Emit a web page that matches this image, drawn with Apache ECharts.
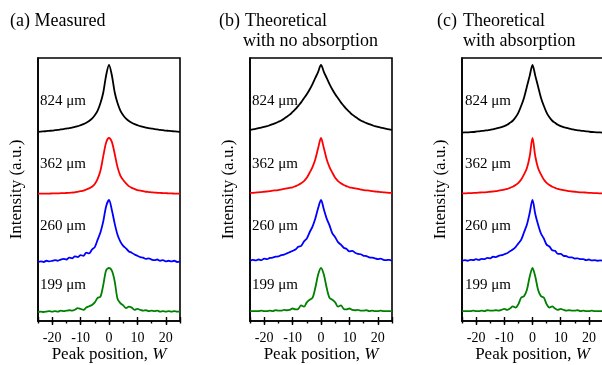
<!DOCTYPE html>
<html>
<head>
<meta charset="utf-8">
<script src="https://cdn.jsdelivr.net/npm/echarts@6/dist/echarts.min.js"></script>
<style>
  html, body { margin: 0; padding: 0; background: #fff; }
  #chart { width: 602px; height: 365px; }
</style>
</head>
<body>
<div id="chart"></div>
<script>
// peak position W
const W = [-25,-24,-23,-22,-21,-20,-19,-18,-17,-16,-15,-14,-13,-12,-11,-10,-9,-8,-7,-6,-5,-4,-3,-2,-1,
  0,1,2,3,4,5,6,7,8,9,10,11,12,13,14,15,16,17,18,19,20,21,22,23,24,25];

const thickness = ['824 μm', '362 μm', '260 μm', '199 μm'];
const colors = ['#000000', '#ff0000', '#0000ff', '#008000'];
// vertical offset / height of each trace (a.u.)
const offset = [9.4, 6.35, 2.95, 0.45];
const scale = [3.4, 2.8, 3.1, 2.2];

// (a) measured, normalized intensity
const meas824 = [0.017,0.02,0.024,0.028,0.032,0.036,0.041,0.046,0.052,0.058,0.065,0.072,0.08,0.09,0.1,0.115,0.13,0.15,0.175,0.21,0.26,0.33,0.44,0.6,0.85,
  1.0,0.85,0.6,0.44,0.33,0.26,0.21,0.175,0.15,0.13,0.115,0.1,0.09,0.08,0.072,0.065,0.058,0.052,0.046,0.041,0.036,0.032,0.028,0.024,0.02,0.017];
const meas362 = [0.005,0.005,0.006,0.007,0.008,0.01,0.011,0.012,0.014,0.016,0.018,0.02,0.025,0.03,0.04,0.05,0.06,0.08,0.1,0.13,0.18,0.27,0.42,0.68,0.92,
  1.0,0.93,0.72,0.48,0.33,0.25,0.19,0.14,0.11,0.09,0.07,0.06,0.05,0.04,0.035,0.03,0.026,0.022,0.019,0.016,0.014,0.012,0.01,0.008,0.007,0.006];
const meas260 = [0.0,0.01,0.0,0.02,0.01,0.02,0.03,0.02,0.04,0.05,0.04,0.07,0.06,0.09,0.08,0.11,0.1,0.15,0.14,0.2,0.24,0.36,0.48,0.66,0.9,
  1.0,0.84,0.62,0.44,0.33,0.26,0.22,0.17,0.15,0.12,0.1,0.08,0.07,0.05,0.06,0.04,0.03,0.04,0.02,0.03,0.01,0.02,0.01,0.02,0.0,0.01];
const meas199 = [0.0,0.01,0.0,0.01,0.02,0.01,0.02,0.01,0.03,0.02,0.03,0.04,0.03,0.05,0.09,0.07,0.05,0.1,0.13,0.16,0.22,0.32,0.35,0.62,0.95,
  1.0,0.94,0.7,0.3,0.2,0.15,0.09,0.12,0.1,0.05,0.07,0.05,0.03,0.04,0.02,0.03,0.02,0.03,0.01,0.02,0.01,0.02,0.01,0.02,0.01,0.01];

// (b) theoretical, no absorption
const noAbs824 = [0.045,0.052,0.06,0.07,0.08,0.09,0.1,0.115,0.13,0.145,0.165,0.185,0.21,0.24,0.27,0.31,0.35,0.4,0.45,0.51,0.57,0.64,0.72,0.81,0.9,
  1.0,0.9,0.81,0.72,0.64,0.57,0.51,0.45,0.4,0.35,0.31,0.27,0.24,0.21,0.185,0.165,0.145,0.13,0.115,0.1,0.09,0.08,0.07,0.06,0.052,0.045];
const noAbs362 = [0.02,0.02,0.025,0.03,0.035,0.04,0.045,0.05,0.06,0.065,0.07,0.08,0.09,0.1,0.11,0.12,0.14,0.16,0.19,0.23,0.29,0.38,0.48,0.62,0.82,
  1.0,0.82,0.62,0.48,0.38,0.29,0.23,0.19,0.16,0.14,0.12,0.11,0.1,0.09,0.08,0.07,0.065,0.06,0.05,0.045,0.04,0.035,0.03,0.025,0.02,0.02];
const noAbs260 = [0.02,0.035,0.025,0.04,0.03,0.055,0.045,0.065,0.07,0.085,0.09,0.11,0.12,0.14,0.16,0.18,0.2,0.245,0.26,0.33,0.38,0.48,0.57,0.7,0.87,
  1.0,0.85,0.7,0.59,0.46,0.4,0.32,0.28,0.23,0.21,0.17,0.18,0.15,0.13,0.125,0.1,0.095,0.075,0.07,0.06,0.045,0.055,0.035,0.03,0.035,0.02];
const noAbs199 = [0.02,0.02,0.02,0.02,0.03,0.02,0.02,0.03,0.02,0.04,0.03,0.03,0.05,0.04,0.05,0.08,0.06,0.07,0.15,0.12,0.22,0.28,0.32,0.55,0.85,
  1.0,0.85,0.55,0.32,0.28,0.22,0.12,0.15,0.07,0.06,0.08,0.05,0.04,0.05,0.03,0.03,0.04,0.02,0.03,0.02,0.02,0.03,0.02,0.02,0.02,0.02];

// (c) theoretical, with absorption
const abs824 = [0.005,0.008,0.01,0.012,0.015,0.02,0.025,0.03,0.035,0.04,0.045,0.055,0.065,0.075,0.085,0.1,0.12,0.15,0.18,0.23,0.3,0.4,0.52,0.68,0.84,
  1.0,0.84,0.68,0.52,0.4,0.3,0.23,0.18,0.15,0.12,0.1,0.085,0.075,0.065,0.055,0.045,0.04,0.035,0.03,0.025,0.02,0.015,0.012,0.01,0.008,0.005];
const abs362 = [0.01,0.01,0.015,0.015,0.02,0.02,0.025,0.03,0.03,0.035,0.04,0.045,0.05,0.06,0.07,0.08,0.09,0.11,0.13,0.16,0.2,0.26,0.35,0.46,0.67,
  1.0,0.67,0.46,0.35,0.26,0.2,0.16,0.13,0.11,0.09,0.08,0.07,0.06,0.05,0.045,0.04,0.035,0.03,0.03,0.025,0.02,0.02,0.015,0.015,0.01,0.01];
const abs260 = [0.02,0.03,0.02,0.035,0.03,0.045,0.035,0.05,0.045,0.065,0.06,0.085,0.08,0.1,0.11,0.125,0.14,0.175,0.2,0.24,0.3,0.36,0.48,0.6,0.79,
  1.0,0.77,0.6,0.46,0.38,0.28,0.25,0.19,0.18,0.13,0.13,0.1,0.095,0.075,0.075,0.055,0.06,0.045,0.045,0.03,0.04,0.025,0.03,0.02,0.025,0.02];
const abs199 = [0.02,0.02,0.02,0.02,0.03,0.02,0.02,0.03,0.02,0.04,0.03,0.03,0.04,0.03,0.05,0.07,0.05,0.08,0.13,0.1,0.18,0.33,0.36,0.5,0.8,
  1.0,0.8,0.5,0.36,0.33,0.18,0.1,0.13,0.08,0.05,0.07,0.05,0.03,0.04,0.03,0.03,0.04,0.02,0.03,0.02,0.02,0.03,0.02,0.02,0.02,0.02];

const panels = [
  [meas824, meas362, meas260, meas199],
  [noAbs824, noAbs362, noAbs260, noAbs199],
  [abs824, abs362, abs260, abs199]
];

const serif = '"Liberation Serif", "Times New Roman", serif';
const gridLeft = [38, 250, 462];
const labelX = [40, 252, 465];
const labelY = [101, 164, 226, 285];

const chart = echarts.init(document.getElementById('chart'), null, { renderer: 'canvas' });

const grid = [], xAxis = [], yAxis = [], series = [], graphic = [];

gridLeft.forEach((left, p) => {
  grid.push({ left: left, top: 58, width: p === 2 ? 141 : 142, height: 263, show: true,
    containLabel: false, outerBoundsMode: 'none',
    borderColor: '#000', borderWidth: 1.6, backgroundColor: 'transparent' });

  // main bottom axis: labels, outward major ticks, name
  xAxis.push({
    gridIndex: p, type: 'value', min: -25, max: 25, splitNumber: 5,
    axisLine: { onZero: false, lineStyle: { color: '#000', width: 1.6 } },
    axisTick: { length: 4, lineStyle: { color: '#000', width: 1.4 } },
    axisLabel: { color: '#000', fontFamily: serif, fontSize: 14, margin: 10,
      showMinLabel: false, showMaxLabel: false },
    splitLine: { show: false },
    name: '{n|Peak position, }{i|W}', nameLocation: 'middle', nameGap: 25,
    nameMoveOverlap: false,
    nameTextStyle: { rich: {
      n: { fontFamily: serif, fontSize: 17, color: '#000' },
      i: { fontFamily: serif, fontSize: 17, color: '#000', fontStyle: 'italic' }
    } }
  });
  // inward half of the crossing major ticks
  xAxis.push({
    gridIndex: p, type: 'value', min: -25, max: 25, splitNumber: 5, position: 'bottom',
    axisLine: { show: false, onZero: false },
    axisTick: { inside: true, length: 4, lineStyle: { color: '#000', width: 1.4 } },
    axisLabel: { show: false }, splitLine: { show: false }
  });
  // minor ticks
  xAxis.push({
    gridIndex: p, type: 'value', min: -25, max: 25, interval: 5, position: 'bottom',
    axisLine: { show: false, onZero: false },
    axisTick: { length: 2.5, lineStyle: { color: '#000', width: 1.4 } },
    axisLabel: { show: false }, splitLine: { show: false }
  });

  yAxis.push({
    gridIndex: p, type: 'value', min: 0, max: 13.15, position: 'left',
    axisLine: { show: true, onZero: false, lineStyle: { color: '#000', width: 1.6 } },
    axisTick: { show: false }, axisLabel: { show: false }, splitLine: { show: false },
    name: 'Intensity (a.u.)', nameLocation: 'middle', nameGap: 13,
    nameTextStyle: { fontFamily: serif, fontSize: 17, color: '#000' }
  });

  panels[p].forEach((vals, k) => {
    series.push({
      type: 'line', xAxisIndex: p * 3, yAxisIndex: p,
      data: W.map((w, i) => [w, offset[k] + scale[k] * vals[i]]),
      showSymbol: false, smooth: 0.3, silent: true,
      lineStyle: { color: colors[k], width: 1.8 }
    });
    graphic.push({ type: 'text', x: labelX[p], y: labelY[k], silent: true,
      style: { text: thickness[k], font: '15px ' + serif, fill: '#000', verticalAlign: 'middle' } });
  });
});

// panel titles
const titles = [
  { text: '(a) Measured', x: 10, y: 21 },
  { text: '(b)', x: 219, y: 21 },
  { text: 'Theoretical', x: 245, y: 21 },
  { text: 'with no absorption', x: 243, y: 41 },
  { text: '(c)', x: 437, y: 21 },
  { text: 'Theoretical', x: 463, y: 21 },
  { text: 'with absorption', x: 463, y: 41 }
];
titles.forEach(t => {
  graphic.push({ type: 'text', x: t.x, y: t.y, silent: true,
    style: { text: t.text, font: '18px ' + serif, fill: '#000', verticalAlign: 'middle' } });
});

chart.setOption({
  animation: false,
  backgroundColor: '#fff',
  grid: grid,
  xAxis: xAxis,
  yAxis: yAxis,
  series: series,
  graphic: graphic
});
</script>
</body>
</html>
